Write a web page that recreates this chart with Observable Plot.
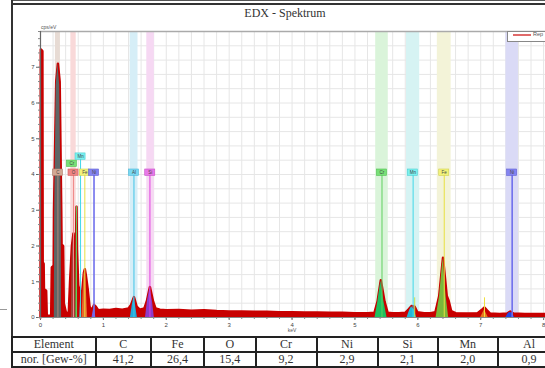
<!DOCTYPE html>
<html><head><meta charset="utf-8">
<script src="https://cdn.jsdelivr.net/npm/d3@7"></script>
<script src="https://cdn.jsdelivr.net/npm/@observablehq/plot@0.6"></script>
<style>
html,body{margin:0;padding:0;background:#fff}
body{width:545px;height:368px;overflow:hidden;position:relative;font-family:"Liberation Sans",Arial,sans-serif}
#chart{position:absolute;left:0;top:0}
.ln{position:absolute;background:#333}
#title{position:absolute;left:0;width:570px;top:6px;text-align:center;font:12px "Liberation Serif","Times New Roman",serif;color:#333}
#unit{position:absolute;left:41px;top:24px;font-size:5px;color:#555}
#legend{position:absolute;left:507px;top:31px;width:45px;height:9px;border:1px solid #888;background:#fff}
#legend .sw{position:absolute;left:5px;top:2px;width:18px;height:1.5px;background:#e06a6a}
#legend .tx{position:absolute;left:25px;top:-1px;font-size:5.5px;color:#555}
#tbl{position:absolute;left:11px;top:336px;border-collapse:collapse;table-layout:fixed;width:550px;font:12px "Liberation Serif","Times New Roman",serif;color:#333}
#tbl td{border:2px solid #222;height:13px;padding:0;line-height:13px;text-align:center;white-space:nowrap;overflow:hidden}
</style></head><body>
<div id="chart"></div>
<div class="ln" style="left:11px;top:0;width:600px;height:1px;background:#555"></div>
<div class="ln" style="left:11px;top:3px;width:600px;height:1.5px"></div>
<div class="ln" style="left:11px;top:0;width:2px;height:368px"></div>
<div class="ln" style="left:0;top:309px;width:7px;height:1px;background:#999"></div>
<div id="title">EDX - Spektrum</div>
<div id="unit">cps/eV</div>
<div id="legend"><div class="sw"></div><div class="tx">Rep</div></div>
<table id="tbl"></table>
<script>
// ---- spectrum (keV, cps/eV) ----
const specE = [0.00,0.005,0.03,0.035,0.05,0.055,0.09,0.10,0.17,0.18,0.21,0.215,0.25,0.277,0.305,0.33,0.335,0.36,0.37,0.41,0.45,0.47,0.50,0.525,0.55,0.565,0.573,0.58,0.60,0.62,0.64,0.665,0.69,0.705,0.72,0.75,0.78,0.82,0.85,0.88,0.92,1.0,1.1,1.2,1.3,1.4,1.44,1.486,1.53,1.58,1.65,1.69,1.74,1.79,1.83,1.9,2.0,2.2,2.4,2.6,2.8,3.0,3.2,3.4,3.6,3.8,4.0,4.2,4.4,4.6,4.8,5.0,5.2,5.31,5.36,5.411,5.47,5.52,5.6,5.7,5.8,5.85,5.90,5.95,5.99,6.1,6.2,6.28,6.34,6.40,6.46,6.49,6.53,6.6,6.8,6.95,7.02,7.06,7.10,7.15,7.3,7.42,7.47,7.52,7.7,8.0,8.03];
const specC = [0,7.5,7.45,1.55,1.5,0.8,0.75,0.05,0.05,1.4,1.45,3.0,6.6,7.1,6.6,3.0,2.05,2.0,0.4,0.1,0.15,1.0,2.0,2.35,1.6,2.0,3.1,1.9,0.9,0.75,0.7,0.75,1.25,1.35,1.2,0.8,0.3,0.2,0.35,0.3,0.2,0.22,0.21,0.24,0.22,0.25,0.35,0.57,0.3,0.22,0.25,0.45,0.85,0.45,0.25,0.22,0.2,0.21,0.19,0.2,0.18,0.17,0.17,0.16,0.16,0.15,0.15,0.14,0.14,0.13,0.13,0.12,0.12,0.13,0.45,1.04,0.45,0.13,0.12,0.12,0.13,0.22,0.32,0.3,0.15,0.12,0.12,0.15,0.6,1.67,0.6,0.47,0.18,0.12,0.11,0.12,0.22,0.28,0.2,0.11,0.1,0.11,0.17,0.11,0.1,0.1,0.1];

// ---- deconvolved element peaks [keV, cps/eV] ----
const peakC   = [[0.22,0],[0.225,2.8],[0.25,6.5],[0.277,7.1],[0.305,6.5],[0.33,2.8],[0.335,0]];
const peakO   = [[0.49,0],[0.505,1.8],[0.525,2.35],[0.545,1.6],[0.555,0]];
const peakCrL = [[0.56,0],[0.568,1.9],[0.573,3.1],[0.578,1.9],[0.585,0]];
const peakMnL = [[0.625,0],[0.637,0.55],[0.65,0]];
const peakFeL = [[0.66,0],[0.69,1.2],[0.705,1.33],[0.72,1.15],[0.75,0]];
const peakNiL = [[0.82,0],[0.85,0.3],[0.88,0]];
const peakAl  = [[1.43,0],[1.46,0.35],[1.486,0.57],[1.51,0.35],[1.54,0]];
const peakSi  = [[1.67,0],[1.70,0.45],[1.74,0.84],[1.78,0.45],[1.81,0]];
const peakCrK = [[5.32,0],[5.365,0.45],[5.411,1.02],[5.46,0.45],[5.51,0]];
const peakMnK = [[5.83,0],[5.87,0.2],[5.90,0.3],[5.94,0.22],[5.98,0]];
const peakFeK = [[6.29,0],[6.345,0.58],[6.40,1.65],[6.45,0.58],[6.49,0]];
const peakFeKb= [[7.0,0],[7.06,0.22],[7.12,0]];
const peakNiK = [[7.40,0],[7.44,0.12],[7.47,0.15],[7.50,0.12],[7.54,0]];
const peakList = [["C",peakC],["O",peakO],["CrL",peakCrL],["MnL",peakMnL],["FeL",peakFeL],["NiL",peakNiL],["Al",peakAl],["Si",peakSi],["CrK",peakCrK],["MnK",peakMnK],["FeK",peakFeK],["FeKb",peakFeKb],["NiK",peakNiK]];

// ---- element marker bands ----
const bandKeys = ["C","O","Al","Si","Cr","Mn","Fe","Ni"];
const bandE    = [0.277,0.525,1.488,1.75,5.43,5.925,6.42,7.50];
const bandW    = [0.08,0.085,0.125,0.12,0.2,0.21,0.22,0.2];

// ---- marker lines and labels ----
const markKeys  = ["C","O","Cr","Mn","Fe","Ni","Al","Si","Cr","Mn","Fe","Ni","CrB","FeB"];
const markE     = [0.277,0.525,0.573,0.637,0.705,0.851,1.486,1.740,5.43,5.925,6.42,7.50,5.95,7.06];
const markTop   = [4.0,4.0,3.1,4.45,4.0,4.0,4.0,4.0,4.0,4.0,4.0,4.0,0.55,0.55];
const labelText = ["C","O","Cr","Mn","Fe","Ni","Al","Si","Cr","Mn","Fe","Ni"];
const labelE    = [0.277,0.525,0.50,0.637,0.705,0.851,1.486,1.745,5.43,5.92,6.42,7.50];
const labelV    = [4.05,4.05,4.3,4.5,4.05,4.05,4.05,4.05,4.05,4.05,4.05,4.05];

// ---- table ----
const tableHead = "Element";
const tableRowLabel = "nor. [Gew-%]";
const tableElements = ["C","Fe","O","Cr","Ni","Si","Mn","Al"];
const tableValues = ["41,2","26,4","15,4","9,2","2,9","2,1","2,0","0,9"];

// ---- styles ----
const bandFill = {C:"#e7dbd4",O:"#f9d9d9",Al:"#d6eef7",Si:"#f6d8f3",Cr:"#daf4da",Mn:"#d6f3f3",Fe:"#f3f3d8",Ni:"#dadaf6"};
const peakFill = {C:"#5e6666",O:"#a0443c",CrL:"#3cc64a",MnL:"#40d0e0",FeL:"#e8682a",NiL:"#7a5ce0",Al:"#22aadb",Si:"#8c3cc8",CrK:"#1fbf5f",MnK:"#22b8d8",FeK:"#7ab83a",FeKb:"#e8781e",NiK:"#2446e0"};
const lineColor = {C:"#b08878",O:"#f08a8a",Cr:"#60d060",Mn:"#40d8e8",Fe:"#e8e040",Ni:"#7070ec",Al:"#40c4e8",Si:"#e040e0",CrB:"#c8e050",FeB:"#f0e040"};
const boxFill = {C:"#d2a894",O:"#f08484",Cr:"#78e078",Mn:"#7af0f0",Fe:"#f2f27a",Ni:"#8484f2",Al:"#78d8f2",Si:"#e878e8"};
const boxStroke = {C:"#b08070",O:"#d06060",Cr:"#50c050",Mn:"#50d0d0",Fe:"#d0d050",Ni:"#6060d0",Al:"#50b8d8",Si:"#c850c8"};

const spectrum = specE.map((e, i) => ({e, c: specC[i]}));
const bands = bandKeys.map((k, i) => ({k, e: bandE[i], w: bandW[i]}));
const markers = markKeys.map((k, i) => ({k, e: markE[i], top: markTop[i]}));
const labels = labelText.map((t, i) => ({t, e: labelE[i], v: labelV[i]}));

const gridX = d3.range(0, 8.05, 0.2);
const gridY = d3.range(0, 8.01, 0.4);
const fontFam = "'Liberation Sans', Arial, sans-serif";

const chart = Plot.plot({
  width: 545, height: 336,
  marginLeft: 40, marginRight: 0, marginTop: 31, marginBottom: 19,
  x: {domain: [0, 8.03], label: null},
  y: {domain: [0, 8], label: null},
  color: {type: "identity"},
  style: {background: "transparent", fontFamily: fontFam, color: "#444", overflow: "visible"},
  marks: [
    Plot.ruleX(gridX, {stroke: "#e6e6e6", strokeWidth: 1}),
    Plot.ruleY(gridY, {stroke: "#e6e6e6", strokeWidth: 1}),
    Plot.rect(bands, {x1: d => d.e - d.w / 2, x2: d => d.e + d.w / 2, y1: () => 0, y2: () => 8, fill: d => bandFill[d.k]}),
    Plot.areaY(spectrum, {x: "e", y: "c", fill: "#c80000"}),
    Plot.lineY(spectrum, {x: "e", y: "c", stroke: "#c80000", strokeWidth: 2.5}),
    ...peakList.map(([k, pts]) => Plot.areaY(pts, {x: d => d[0], y: d => d[1], fill: peakFill[k]})),
    Plot.ruleX(markers, {x: "e", y1: () => 0, y2: "top", stroke: d => lineColor[d.k], strokeWidth: d => d.k === "Ni" ? 1.6 : 1}),
    Plot.rect(labels, {x1: d => d.e - 0.08, x2: d => d.e + 0.08, y1: d => d.v - 0.09, y2: d => d.v + 0.09, fill: d => boxFill[d.t], stroke: d => boxStroke[d.t], strokeWidth: 0.6}),
    Plot.text(labels, {x: "e", y: "v", text: "t", fontSize: 4.5, fill: "#444"}),
    Plot.ruleY([8], {stroke: "#aaa", strokeWidth: 1.5}),
    Plot.ruleY([0], {stroke: "#888"}),
    Plot.ruleX([0], {stroke: "#666", strokeWidth: 1.2}),
    Plot.axisX(d3.range(0, 9), {tickSize: 3, tickPadding: 2, fontSize: 6, stroke: "#666", fill: "#444", label: null}),
    Plot.axisX(d3.range(0, 8.01, 0.2), {tickSize: 2, tickFormat: () => "", stroke: "#888", label: null}),
    Plot.axisY(d3.range(0, 8), {tickSize: 4, tickPadding: 2, fontSize: 6, stroke: "#666", fill: "#444", label: null}),
    Plot.axisY(d3.range(0, 8.01, 0.2), {tickSize: 2, tickFormat: () => "", stroke: "#888", label: null}),
    Plot.text(["keV"], {x: () => 4, y: () => 0, text: d => d, dy: 13, fontSize: 5, fill: "#555"})
  ]
});
document.getElementById("chart").appendChild(chart);

// table
const widths = [83.5, 55.5, 53, 51.5, 61, 61, 60, 60.5, 62];
const tbl = document.getElementById("tbl");
const cg = document.createElement("colgroup");
widths.forEach(w => { const c = document.createElement("col"); c.style.width = w + "px"; cg.appendChild(c); });
tbl.appendChild(cg);
[[tableHead, ...tableElements], [tableRowLabel, ...tableValues]].forEach(row => {
  const tr = document.createElement("tr");
  row.forEach(v => { const td = document.createElement("td"); td.textContent = v; tr.appendChild(td); });
  tbl.appendChild(tr);
});
</script>
</body></html>
